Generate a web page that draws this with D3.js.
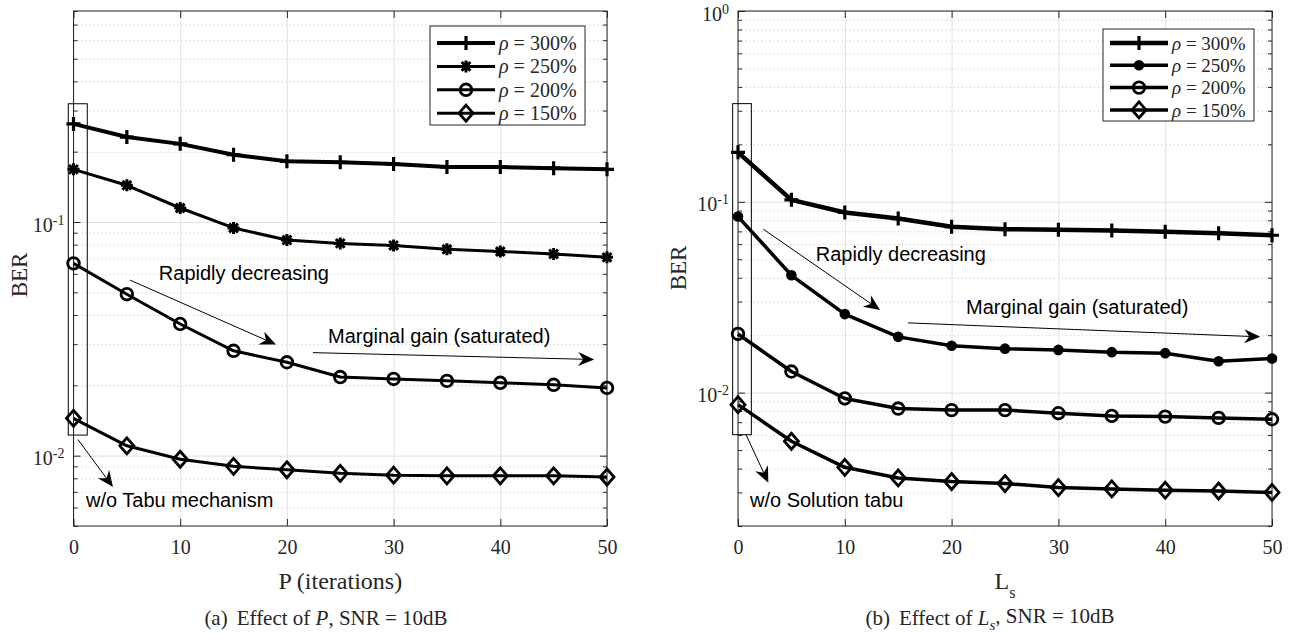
<!DOCTYPE html>
<html>
<head>
<meta charset="utf-8">
<script src="https://cdn.jsdelivr.net/npm/d3@7"></script>
<style>
  body { margin: 0; background: #fff; }
  .serif { font-family: "Liberation Serif", "Times New Roman", serif; fill: #262626; }
  .note { font-family: "Liberation Sans", Arial, sans-serif; font-size: 20px; fill: #000; }
  .grid-major line { stroke: #e2e2e2; stroke-width: 1; }
  .grid-minor line { stroke: #c4c4c4; stroke-width: 1; stroke-dasharray: 1 3; }
  .axis line { stroke: #262626; }
  .axis path { display: none; }
</style>
</head>
<body>
<svg id="fig" width="1293" height="634"></svg>
<script>
// ---- data ----
const iterP = [0, 5, 10, 15, 20, 25, 30, 35, 40, 45, 50];
const berP300 = [0.263, 0.231, 0.216, 0.194, 0.182, 0.180, 0.177, 0.172, 0.172, 0.170, 0.168];
const berP250 = [0.168, 0.1436, 0.1148, 0.0943, 0.0837, 0.081, 0.0794, 0.0764, 0.0748, 0.073, 0.0706];
const berP200 = [0.0665, 0.0491, 0.0366, 0.0281, 0.0251, 0.0217, 0.0213, 0.0209, 0.0205, 0.0201, 0.0195];
const berP150 = [0.01445, 0.01102, 0.00965, 0.0090, 0.0087, 0.0084, 0.00825, 0.0082, 0.0082, 0.0082, 0.0081];

const lsValues = [0, 5, 10, 15, 20, 25, 30, 35, 40, 45, 50];
const berL300 = [0.1816, 0.1024, 0.0879, 0.0817, 0.0741, 0.0719, 0.0713, 0.0708, 0.0696, 0.0685, 0.0668];
const berL250 = [0.0837, 0.0412, 0.0258, 0.0196, 0.0176, 0.0170, 0.01675, 0.0163, 0.0161, 0.0146, 0.0151];
const berL200 = [0.0203, 0.0129, 0.00932, 0.00825, 0.0081, 0.0081, 0.0078, 0.00755, 0.00749, 0.00737, 0.00725];
const berL150 = [0.00865, 0.00556, 0.00406, 0.00357, 0.00342, 0.00334, 0.00318, 0.00313, 0.00308, 0.00305, 0.0030];

const xTicks = [0, 10, 20, 30, 40, 50];
const legendLabels = ["300%", "250%", "200%", "150%"];

// annotations, in data units: [x, y]
const notesP = [
  { text: "Rapidly decreasing", at: [8.0, 0.0604], from: [5.3, 0.0564], to: [18.98, 0.0299] },
  { text: "Marginal gain (saturated)", at: [23.85, 0.0325], from: [22.44, 0.0276], to: [48.8, 0.0258] },
  { text: "w/o Tabu mechanism", at: [1.17, 0.00643], from: [0.42, 0.01172], to: [3.7, 0.00734] }
];
const notesL = [
  { text: "Rapidly decreasing", at: [7.28, 0.0533], from: [2.37, 0.0719], to: [13.3, 0.0271] },
  { text: "Marginal gain (saturated)", at: [21.35, 0.0281], from: [15.92, 0.0232], to: [48.9, 0.0196] },
  { text: "w/o Solution tabu", at: [1.12, 0.00273], from: [0.75, 0.00602], to: [2.84, 0.00337] }
];
const boxP = [-0.49, 1.29, 0.01225, 0.3207];
const boxL = [-0.5, 1.25, 0.00602, 0.327];

// ---- marker shapes ----
const markers = {
  plus: g => g.append("path").attr("d", "M-7,0H7M0,-7V7").attr("stroke", "#000").attr("stroke-width", 3.2),
  star: g => g.append("path")
    .attr("d", "M-6,0H6M0,-6V6M-4.4,-4.4L4.4,4.4M-4.4,4.4L4.4,-4.4")
    .attr("stroke", "#000").attr("stroke-width", 3),
  circle: g => g.append("circle").attr("r", 5.8).attr("fill", "none").attr("stroke", "#000").attr("stroke-width", 2.8),
  dot: g => g.append("circle").attr("r", 5.3).attr("fill", "#000"),
  diamond: g => g.append("path").attr("d", "M0,-8L7,0L0,8L-7,0Z")
    .attr("fill", "none").attr("stroke", "#000").attr("stroke-width", 2.8)
};

const svg = d3.select("#fig");

function drawPanel(cfg) {
  const x = d3.scaleLinear().domain([0, 50]).range([cfg.left, cfg.right]);
  const y = d3.scaleLog().domain(cfg.yDomain).range([cfg.bottom, cfg.top]);
  const h = cfg.bottom - cfg.top;
  const w = cfg.right - cfg.left;

  const decades = [];
  const minors = [];
  const e0 = Math.floor(Math.log10(cfg.yDomain[0]));
  const e1 = Math.ceil(Math.log10(cfg.yDomain[1]));
  for (let e = e0; e <= e1; e++) {
    for (let m = 1; m <= 9; m++) {
      const v = m * Math.pow(10, e);
      if (v < cfg.yDomain[0] * 0.999 || v > cfg.yDomain[1] * 1.001) continue;
      if (m === 1) decades.push(v); else minors.push(v);
    }
  }

  // grid
  svg.append("g").attr("class", "grid-minor")
    .attr("transform", `translate(${cfg.left},0)`)
    .call(d3.axisLeft(y).tickValues(minors).tickSize(-w).tickFormat(""))
    .select(".domain").remove();
  svg.append("g").attr("class", "grid-major")
    .attr("transform", `translate(${cfg.left},0)`)
    .call(d3.axisLeft(y).tickValues(decades).tickSize(-w).tickFormat(""))
    .select(".domain").remove();
  svg.append("g").attr("class", "grid-major")
    .attr("transform", `translate(0,${cfg.bottom})`)
    .call(d3.axisBottom(x).tickValues(xTicks).tickSize(-h).tickFormat(""))
    .select(".domain").remove();

  // axes (ticks inside, box on)
  const bottomAx = svg.append("g").attr("class", "axis")
    .attr("transform", `translate(0,${cfg.bottom})`)
    .call(d3.axisBottom(x).tickValues(xTicks).tickSize(-7).tickPadding(14));
  bottomAx.selectAll("text").attr("class", "serif").attr("font-size", 20).attr("fill", "#262626");

  svg.append("g").attr("class", "axis")
    .attr("transform", `translate(0,${cfg.top})`)
    .call(d3.axisTop(x).tickValues(xTicks).tickSize(-7).tickFormat(""));

  const leftAx = svg.append("g").attr("class", "axis")
    .attr("transform", `translate(${cfg.left},0)`)
    .call(d3.axisLeft(y).tickValues(decades).tickSize(-7).tickPadding(9));
  leftAx.selectAll(".tick text").each(function (d) {
    const t = d3.select(this).attr("class", "serif").attr("font-size", 20)
      .attr("fill", "#262626").attr("dy", "0.45em");
    t.text(null);
    t.append("tspan").text("10");
    t.append("tspan").attr("dy", "-0.5em").attr("font-size", 14).text(Math.round(Math.log10(d)));
  });
  svg.append("g").attr("class", "axis")
    .attr("transform", `translate(${cfg.left},0)`)
    .call(d3.axisLeft(y).tickValues(minors).tickSize(-4).tickFormat(""));
  svg.append("g").attr("class", "axis")
    .attr("transform", `translate(${cfg.right},0)`)
    .call(d3.axisRight(y).tickValues(decades).tickSize(-7).tickFormat(""));
  svg.append("g").attr("class", "axis")
    .attr("transform", `translate(${cfg.right},0)`)
    .call(d3.axisRight(y).tickValues(minors).tickSize(-4).tickFormat(""));

  svg.append("rect")
    .attr("x", cfg.left).attr("y", cfg.top).attr("width", w).attr("height", h)
    .attr("fill", "none").attr("stroke", "#262626").attr("stroke-width", 1);

  // box around the first point
  svg.append("rect")
    .attr("x", x(cfg.box[0])).attr("y", y(cfg.box[3]))
    .attr("width", x(cfg.box[1]) - x(cfg.box[0]))
    .attr("height", y(cfg.box[2]) - y(cfg.box[3]))
    .attr("fill", "none").attr("stroke", "#000").attr("stroke-width", 1);

  // series
  const line = d3.line().x(d => x(d[0])).y(d => y(d[1]));
  cfg.series.forEach(s => {
    const pts = cfg.xs.map((v, i) => [v, s.values[i]]);
    svg.append("path").datum(pts)
      .attr("d", line).attr("fill", "none").attr("stroke", "#000")
      .attr("stroke-width", s.width).attr("stroke-linejoin", "round");
    pts.forEach(p => {
      const g = svg.append("g").attr("transform", `translate(${x(p[0])},${y(p[1])})`);
      markers[s.marker](g);
    });
  });

  // annotations
  cfg.notes.forEach(n => {
    svg.append("text").attr("class", "note")
      .attr("x", x(n.at[0])).attr("y", y(n.at[1])).attr("dy", "0.35em")
      .text(n.text);
    const x1 = x(n.from[0]), y1 = y(n.from[1]);
    const x2 = x(n.to[0]), y2 = y(n.to[1]);
    const ang = Math.atan2(y2 - y1, x2 - x1);
    const L = 16, W = 7, notch = 11;
    svg.append("line")
      .attr("x1", x1).attr("y1", y1)
      .attr("x2", x2 - notch * Math.cos(ang)).attr("y2", y2 - notch * Math.sin(ang))
      .attr("stroke", "#000").attr("stroke-width", 1);
    const pt = (a, b) => [x2 + a * Math.cos(ang) - b * Math.sin(ang), y2 + a * Math.sin(ang) + b * Math.cos(ang)];
    svg.append("path")
      .attr("d", "M" + [pt(0, 0), pt(-L, -W), pt(-notch, 0), pt(-L, W)].map(p => p.join(",")).join("L") + "Z")
      .attr("fill", "#000");
  });

  // legend
  const lg = cfg.legend;
  svg.append("rect")
    .attr("x", lg.x).attr("y", lg.y).attr("width", lg.w).attr("height", lg.h)
    .attr("fill", "#fff").attr("stroke", "#262626").attr("stroke-width", 1);
  cfg.series.forEach((s, i) => {
    const ry = lg.y + lg.row0 + i * lg.step;
    svg.append("line")
      .attr("x1", lg.x + 7).attr("x2", lg.x + 7 + lg.lineLen)
      .attr("y1", ry).attr("y2", ry)
      .attr("stroke", "#000").attr("stroke-width", s.width);
    const g = svg.append("g").attr("transform", `translate(${lg.x + 7 + lg.lineLen / 2},${ry})`);
    markers[s.marker](g);
    const t = svg.append("text").attr("class", "serif").attr("font-size", lg.font).attr("fill", "#000")
      .attr("x", lg.x + 11 + lg.lineLen).attr("y", ry).attr("dy", "0.35em");
    t.append("tspan").attr("font-style", "italic").text("ρ");
    t.append("tspan").text(" = " + legendLabels[i]);
  });

  // y label
  svg.append("text").attr("class", "serif").attr("font-size", 23).attr("fill", "#262626")
    .attr("text-anchor", "middle")
    .attr("transform", `translate(${cfg.yLabelX},${cfg.yLabelY}) rotate(-90)`)
    .text("BER");

  // x label
  const xl = svg.append("text").attr("class", "serif").attr("font-size", 24).attr("fill", "#262626")
    .attr("text-anchor", "middle").attr("x", (cfg.left + cfg.right) / 2).attr("y", 589);
  cfg.xLabel(xl);

  // caption
  const cap = svg.append("text").attr("class", "serif").attr("font-size", 21).attr("fill", "#000")
    .attr("text-anchor", "middle").attr("x", cfg.capX).attr("y", 625);
  cfg.caption(cap);
}

drawPanel({
  left: 73.5, right: 607, top: 11, bottom: 526,
  yDomain: [0.005, 0.8],
  xs: iterP,
  series: [
    { values: berP300, marker: "plus", width: 4 },
    { values: berP250, marker: "star", width: 3 },
    { values: berP200, marker: "circle", width: 3 },
    { values: berP150, marker: "diamond", width: 3 }
  ],
  notes: notesP,
  box: boxP,
  legend: { x: 430, y: 26, w: 155, h: 99, row0: 17, step: 23.4, lineLen: 58, font: 20 },
  yLabelX: 27, yLabelY: 275,
  capX: 326,
  xLabel: t => t.text("P (iterations)"),
  caption: t => {
    t.append("tspan").text("(a)");
    t.append("tspan").attr("dx", 9).text("Effect of ");
    t.append("tspan").attr("font-style", "italic").text("P");
    t.append("tspan").text(", SNR = 10dB");
  }
});

drawPanel({
  left: 738, right: 1272, top: 11, bottom: 526,
  yDomain: [0.002, 1],
  xs: lsValues,
  series: [
    { values: berL300, marker: "plus", width: 4.5 },
    { values: berL250, marker: "dot", width: 3.5 },
    { values: berL200, marker: "circle", width: 3.5 },
    { values: berL150, marker: "diamond", width: 3.5 }
  ],
  notes: notesL,
  box: boxL,
  legend: { x: 1103, y: 29, w: 151, h: 92, row0: 14, step: 22.3, lineLen: 58, font: 19 },
  yLabelX: 686, yLabelY: 268,
  capX: 990,
  xLabel: t => {
    t.append("tspan").text("L");
    t.append("tspan").attr("font-size", 16).attr("dy", "0.55em").text("s");
  },
  caption: t => {
    t.append("tspan").text("(b)");
    t.append("tspan").attr("dx", 9).text("Effect of ");
    t.append("tspan").attr("font-style", "italic").text("L");
    t.append("tspan").attr("font-style", "italic").attr("font-size", 15).attr("dy", "0.3em").text("s");
    t.append("tspan").attr("dy", "-0.3em").text(", SNR = 10dB");
  }
});
</script>
</body>
</html>
